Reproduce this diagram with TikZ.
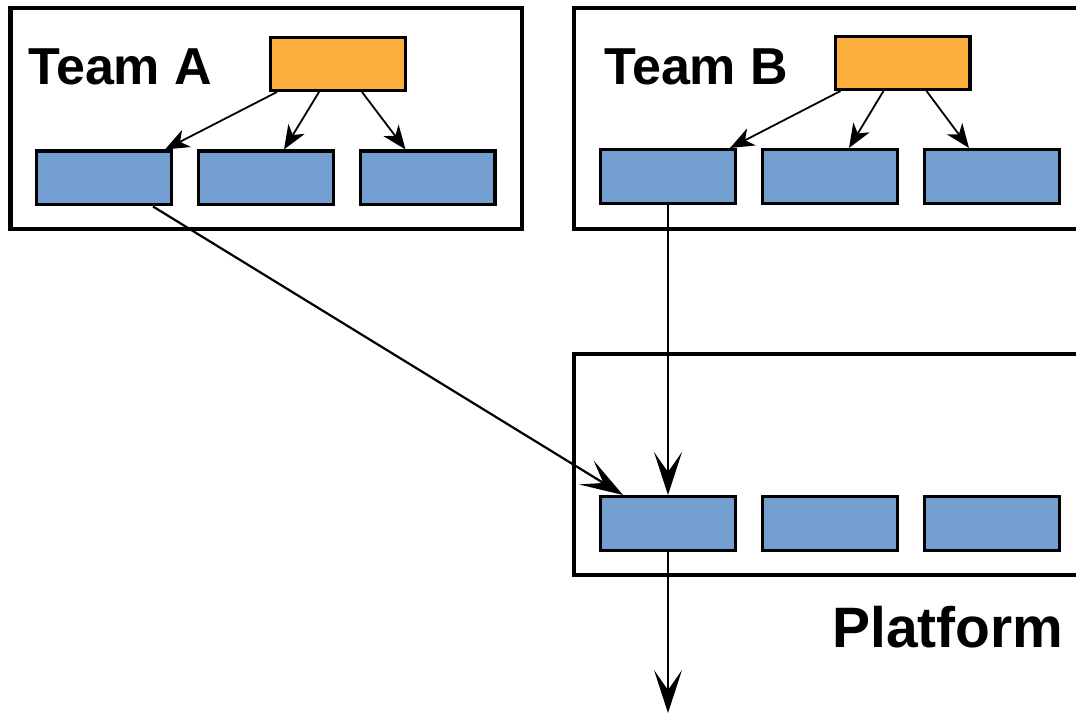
\documentclass[tikz,border=0pt]{standalone}
\usepackage{fontspec}
\setmainfont{Liberation Sans}
\usetikzlibrary{arrows.meta}
\definecolor{leadorange}{RGB}{252,175,62}
\definecolor{unitblue}{RGB}{114,159,207}

\begin{document}
\begin{tikzpicture}[x=1pt,y=1pt,
  frame/.style={draw=black, line width=4.3pt},
  lead/.style={draw=black, line width=3.4pt, fill=leadorange,
    minimum width=134.6pt, minimum height=52.6pt, inner sep=0pt},
  unit/.style={draw=black, line width=3.4pt, fill=unitblue,
    minimum width=134.6pt, minimum height=53.6pt, inner sep=0pt},
  teamlabel/.style={font=\bfseries\fontsize{52}{60}\selectfont,
    anchor=base west, inner sep=0pt},
  small/.style={line width=1.8pt, -{Stealth[length=24pt,width=19pt,inset=7pt]}},
  big/.style={line width=2.2pt, -{Stealth[length=43pt,width=28pt,inset=20pt]}},
]
\useasboundingbox (0,0) rectangle (1076,-714);
\clip (0,0) rectangle (1076,-714);

% group frames (the two on the right run past the edge)
\draw[frame] (10.5,-8) rectangle (522,-229);
\draw[frame] (574,-8) rectangle (1100,-229);
\draw[frame] (574,-354) rectangle (1100,-575);

% labels
\node[teamlabel] (la) at (28,-85) {Team A};
\node[teamlabel] (lb) at (604,-85) {Team B};
\node[teamlabel, font=\bfseries\fontsize{57}{64}\selectfont] (lp) at (832,-647) {Platform};

% Team A
\node[lead] (oa) at (338,-64) {};
\node[unit] (a1) at (104,-178) {};
\node[unit] (a2) at (266,-178) {};
\node[unit] (a3) at (427.5,-178) {};

% Team B
\node[lead] (ob) at (902.5,-63) {};
\node[unit] (b1) at (668,-176.5) {};
\node[unit] (b2) at (830,-176.5) {};
\node[unit] (b3) at (992,-176.5) {};

% Platform
\node[unit] (p1) at (668,-523.5) {};
\node[unit] (p2) at (830,-523.5) {};
\node[unit] (p3) at (992,-523.5) {};

\coordinate (out) at (668,-713);

% team-internal links
\draw[small] ([xshift=-61pt]oa.south) -- ([xshift=61pt]a1.north);
\draw[small] ([xshift=-19pt]oa.south) -- ([xshift=18pt]a2.north);
\draw[small] ([xshift=24pt]oa.south) -- ([xshift=-22pt]a3.north);

\draw[small] ([xshift=-62pt]ob.south) -- ([xshift=62pt]b1.north);
\draw[small] ([xshift=-19pt]ob.south) -- ([xshift=19pt]b2.north);
\draw[small] ([xshift=24pt]ob.south) -- ([xshift=-23pt]b3.north);

% links into and out of the platform
\draw[big] ([xshift=49pt]a1.south) -- ([xshift=-45pt]p1.north);
\draw[big] (b1.south) -- (p1.north);
\draw[big] (p1.south) -- (out);
\end{tikzpicture}
\end{document}
